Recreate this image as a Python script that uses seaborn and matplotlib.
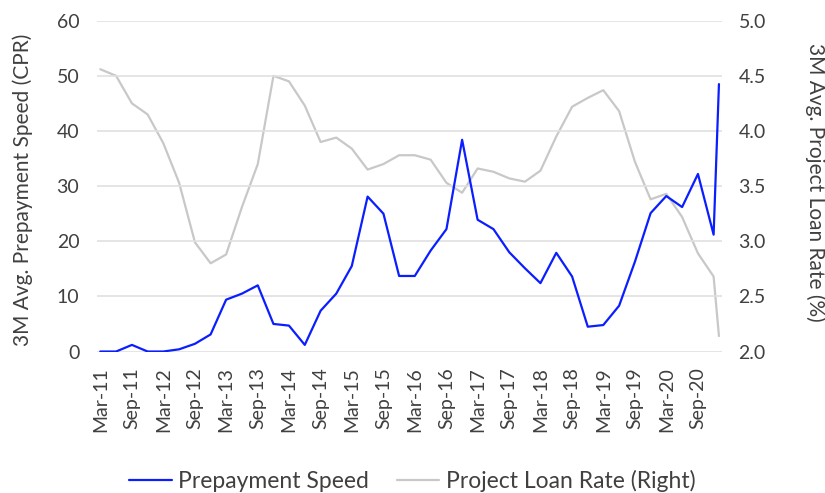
import pandas as pd
import seaborn as sns
import matplotlib.pyplot as plt
import matplotlib.dates as mdates

# quarterly data Mar-11 .. Dec-20, plus Jan-21
dates = list(pd.date_range('2011-03-01', '2020-12-01', freq='3MS')) + [pd.Timestamp('2021-01-01')]

prepay_speed = [0.0, 0.0, 1.2, 0.0, 0.0, 0.4, 1.4, 3.1, 9.4, 10.5,
                12.0, 5.0, 4.7, 1.2, 7.4, 10.5, 15.5, 28.1, 25.0, 13.7,
                13.7, 18.3, 22.2, 38.4, 23.9, 22.2, 18.0, 15.1, 12.4, 17.9,
                13.6, 4.5, 4.8, 8.3, 16.3, 25.1, 28.2, 26.2, 32.2, 21.2,
                48.5]

loan_rate = [4.56, 4.50, 4.25, 4.15, 3.89, 3.53, 2.99, 2.80, 2.88, 3.31,
             3.70, 4.50, 4.45, 4.23, 3.90, 3.94, 3.84, 3.65, 3.70, 3.78,
             3.78, 3.74, 3.53, 3.44, 3.66, 3.63, 3.57, 3.54, 3.64, 3.95,
             4.22, 4.30, 4.37, 4.18, 3.72, 3.38, 3.43, 3.22, 2.89, 2.68,
             2.14]

df = pd.DataFrame({'date': dates, 'speed': prepay_speed, 'rate': loan_rate})

sns.set_style('white')
plt.rcParams['font.family'] = ['Lato', 'DejaVu Sans']
text_col = '#404040'

fig, ax = plt.subplots(figsize=(8.25, 4.93), dpi=100)
fig.subplots_adjust(left=0.118, right=0.875, top=0.958, bottom=0.287)
ax2 = ax.twinx()

sns.lineplot(data=df, x='date', y='rate', ax=ax2, color='#c8c8c8', linewidth=1.6,
             label='Project Loan Rate (Right)', legend=False)
sns.lineplot(data=df, x='date', y='speed', ax=ax, color='#0a1eff', linewidth=1.6,
             label='Prepayment Speed', legend=False)

# blue on top of grey
ax.set_zorder(ax2.get_zorder() + 1)
ax.patch.set_visible(False)

ax.set_ylim(0, 60)
ax.set_yticks(range(0, 61, 10))
ax2.set_ylim(2.0, 5.0)
ax2.set_yticks([2.0, 2.5, 3.0, 3.5, 4.0, 4.5, 5.0])
ax2.set_yticklabels([f'{v:.1f}' for v in ax2.get_yticks()])

ax.set_xlim(pd.Timestamp('2011-02-12'), pd.Timestamp('2021-01-18'))
ticks = [pd.Timestamp(f'{y}-{m:02d}-01') for y in range(2011, 2021) for m in (3, 9)]
ax.set_xticks(ticks)
ax.xaxis.set_major_formatter(mdates.DateFormatter('%b-%y'))
plt.setp(ax.get_xticklabels(), rotation=90)

ax.grid(axis='y', color='#e0e0e0', linewidth=1.2)
ax2.grid(False)
for a in (ax, ax2):
    for s in a.spines.values():
        s.set_visible(False)
    a.tick_params(length=0, labelsize=14, labelcolor=text_col)
    a.set_xlabel('')
ax.tick_params(axis='y', pad=13)
ax.tick_params(axis='x', pad=11)
ax2.tick_params(axis='y', pad=12)

ax.set_ylabel('3M Avg. Prepayment Speed (CPR)', fontsize=15, color=text_col,
              ha='center', va='center')
ax.yaxis.set_label_coords(-0.12, 0.49)
ax2.set_ylabel('3M Avg. Project Loan Rate (%)', fontsize=15, color=text_col,
               rotation=270, ha='center', va='center')
ax2.yaxis.set_label_coords(1.149, 0.51)

h1, l1 = ax.get_legend_handles_labels()
h2, l2 = ax2.get_legend_handles_labels()
fig.legend(h1 + h2, l1 + l2, loc='center', bbox_to_anchor=(0.5, 0.024),
           ncol=2, frameon=False, fontsize=16.5, labelcolor=text_col,
           handlelength=1.85, handletextpad=0.3, columnspacing=1.2)

plt.savefig('out.png', dpi=100)
